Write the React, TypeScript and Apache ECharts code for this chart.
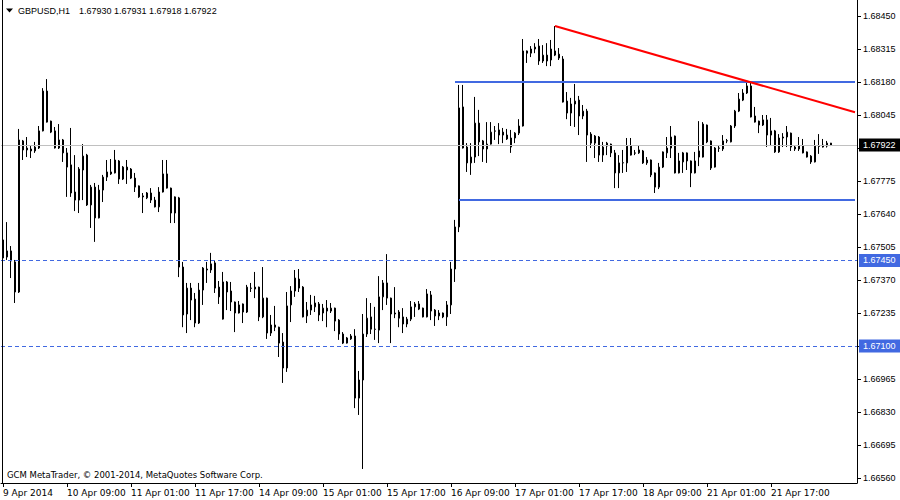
import React, { useEffect, useRef } from "react";
import * as echarts from "echarts";

// Time axis labels (one every 16 H1 bars)
const tickLabels = [
  "9 Apr 2014", "10 Apr 09:00", "11 Apr 01:00", "11 Apr 17:00", "14 Apr 09:00",
  "15 Apr 01:00", "15 Apr 17:00", "16 Apr 09:00", "17 Apr 01:00", "17 Apr 17:00",
  "18 Apr 09:00", "21 Apr 01:00", "21 Apr 17:00",
];
const barsPerLabel = 16;
const emptySlots = 6;

// Price scale ticks; 1.67910 label is hidden under the bid box in the reference
const priceTicks = [
  1.6656, 1.66695, 1.6683, 1.66965, 1.671, 1.67235, 1.6737, 1.67505,
  1.6764, 1.67775, 1.6791, 1.68045, 1.6818, 1.68315, 1.6845,
];
const priceLabels = [
  1.6656, 1.66695, 1.6683, 1.66965, 1.671, 1.67235, 1.6737, 1.67505,
  1.6764, 1.67775, 1.68045, 1.6818, 1.68315, 1.6845,
];
const priceMin = 1.665396;
const priceMax = 1.685155;

// GBPUSD H1 candles: [open, close, low, high]
const candles: number[][] = [
  [1.67534, 1.6746, 1.67403, 1.67603], [1.67464, 1.67489, 1.67452, 1.67607], [1.67489, 1.67448, 1.67378, 1.67509], [1.67444, 1.67321, 1.67276, 1.67452],
  [1.67321, 1.67943, 1.67317, 1.67988], [1.67939, 1.67902, 1.67861, 1.67943], [1.6791, 1.67902, 1.67873, 1.67955], [1.67906, 1.67898, 1.67869, 1.67918],
  [1.67898, 1.67914, 1.6789, 1.67935], [1.6791, 1.6798, 1.67906, 1.68], [1.6798, 1.68143, 1.67978, 1.68155], [1.68143, 1.68016, 1.68014, 1.68192],
  [1.6802, 1.67975, 1.67971, 1.68022], [1.6798, 1.6791, 1.67908, 1.67996], [1.6791, 1.67943, 1.67906, 1.68008], [1.67943, 1.6789, 1.67853, 1.67947],
  [1.6789, 1.67832, 1.6771, 1.6791], [1.67841, 1.67726, 1.6771, 1.67992], [1.6773, 1.67697, 1.67652, 1.67881], [1.67697, 1.67824, 1.67644, 1.67832],
  [1.6782, 1.67877, 1.67697, 1.67926], [1.67881, 1.67677, 1.67673, 1.67886], [1.67677, 1.6775, 1.67583, 1.67759], [1.6775, 1.67624, 1.67526, 1.67767],
  [1.67624, 1.67738, 1.67622, 1.67759], [1.67738, 1.67791, 1.67689, 1.678], [1.67791, 1.67812, 1.67775, 1.67861], [1.67812, 1.67804, 1.678, 1.67865],
  [1.67808, 1.67861, 1.67806, 1.67902], [1.67857, 1.67783, 1.67763, 1.67861], [1.67783, 1.67832, 1.67779, 1.67836], [1.67832, 1.6782, 1.67763, 1.67861],
  [1.67824, 1.67787, 1.67783, 1.67828], [1.67787, 1.6775, 1.6773, 1.67808], [1.67755, 1.6771, 1.67706, 1.67757], [1.67714, 1.6771, 1.67644, 1.67726],
  [1.67706, 1.67726, 1.67701, 1.6773], [1.67726, 1.67697, 1.67685, 1.67746], [1.67697, 1.67669, 1.67667, 1.6771], [1.67669, 1.6773, 1.67648, 1.6775],
  [1.6773, 1.67804, 1.67728, 1.67861], [1.67804, 1.67746, 1.67744, 1.67861], [1.67746, 1.67644, 1.67603, 1.67748], [1.67644, 1.6771, 1.67603, 1.67712],
  [1.67706, 1.67423, 1.67382, 1.6771], [1.67423, 1.67227, 1.67177, 1.67444], [1.67231, 1.67337, 1.67153, 1.67358], [1.67337, 1.67288, 1.67206, 1.67358],
  [1.67292, 1.67194, 1.67177, 1.67317], [1.67194, 1.67329, 1.6719, 1.67358], [1.67329, 1.67419, 1.67268, 1.67423], [1.67411, 1.67415, 1.67358, 1.67444],
  [1.67411, 1.67436, 1.67399, 1.67481], [1.6744, 1.67337, 1.67317, 1.67448], [1.67341, 1.67301, 1.67272, 1.67366], [1.6721, 1.67362, 1.67208, 1.67403],
  [1.67362, 1.67321, 1.67247, 1.67366], [1.67325, 1.6728, 1.67243, 1.67362], [1.6728, 1.67235, 1.67157, 1.67282], [1.67235, 1.67268, 1.67233, 1.67284],
  [1.67272, 1.67239, 1.67194, 1.67274], [1.67239, 1.67341, 1.67235, 1.6735], [1.67337, 1.67336, 1.67321, 1.67358], [1.67341, 1.67333, 1.67296, 1.67403],
  [1.67341, 1.67219, 1.67202, 1.67343], [1.67219, 1.67296, 1.67214, 1.67423], [1.67296, 1.67153, 1.67129, 1.67298], [1.67153, 1.67186, 1.67141, 1.67227],
  [1.67186, 1.67177, 1.67161, 1.67264], [1.67177, 1.67112, 1.67055, 1.67179], [1.67116, 1.6701, 1.66949, 1.67153], [1.6701, 1.67264, 1.66994, 1.67321],
  [1.67268, 1.67325, 1.67198, 1.67345], [1.67325, 1.67378, 1.67301, 1.67411], [1.67374, 1.67337, 1.67321, 1.67415], [1.67341, 1.67219, 1.67217, 1.67345],
  [1.67223, 1.67247, 1.67194, 1.6728], [1.67247, 1.67268, 1.67227, 1.67309], [1.6726, 1.67276, 1.67239, 1.67305], [1.67272, 1.67227, 1.67202, 1.6728],
  [1.67235, 1.67255, 1.67202, 1.67272], [1.67255, 1.67243, 1.67177, 1.67288], [1.67243, 1.67255, 1.67235, 1.67276], [1.67255, 1.67202, 1.67161, 1.67257],
  [1.67206, 1.67149, 1.67125, 1.6721], [1.67149, 1.67112, 1.67108, 1.67157], [1.67112, 1.67133, 1.6711, 1.67137], [1.67129, 1.67141, 1.67125, 1.67149],
  [1.67141, 1.66887, 1.66846, 1.67169], [1.66887, 1.66961, 1.66818, 1.66998], [1.66961, 1.67149, 1.66597, 1.67231], [1.67149, 1.67214, 1.67137, 1.67296],
  [1.67219, 1.67169, 1.67149, 1.67276], [1.67169, 1.67168, 1.67125, 1.6726], [1.67165, 1.67301, 1.67112, 1.67386], [1.67301, 1.67358, 1.67247, 1.6737],
  [1.67358, 1.67296, 1.67268, 1.67476], [1.67296, 1.67231, 1.67112, 1.67298], [1.67231, 1.67235, 1.67214, 1.67341], [1.67239, 1.67214, 1.67177, 1.67247],
  [1.67219, 1.6719, 1.67153, 1.67255], [1.6719, 1.6721, 1.67177, 1.67219], [1.6721, 1.6726, 1.67202, 1.67284], [1.6726, 1.67272, 1.67219, 1.6728],
  [1.67272, 1.67251, 1.67247, 1.67284], [1.67255, 1.67219, 1.67217, 1.67257], [1.67219, 1.67313, 1.67217, 1.67333], [1.67309, 1.67243, 1.67206, 1.67325],
  [1.67247, 1.67223, 1.67182, 1.67251], [1.67223, 1.67235, 1.67206, 1.67247], [1.67235, 1.67219, 1.67214, 1.67237], [1.67219, 1.67268, 1.67182, 1.67284],
  [1.67268, 1.67415, 1.67231, 1.67444], [1.67415, 1.67587, 1.67362, 1.67616], [1.67587, 1.68074, 1.67566, 1.68168], [1.68078, 1.6791, 1.67908, 1.68168],
  [1.67914, 1.67849, 1.67812, 1.6793], [1.67849, 1.67873, 1.678, 1.6793], [1.67873, 1.68012, 1.67849, 1.68119], [1.68012, 1.67935, 1.67877, 1.68066],
  [1.67939, 1.67906, 1.67853, 1.67943], [1.67906, 1.67926, 1.67849, 1.68016], [1.67926, 1.67975, 1.67924, 1.68016], [1.6798, 1.67979, 1.67943, 1.68],
  [1.67984, 1.67963, 1.67926, 1.68012], [1.67975, 1.67963, 1.6793, 1.67992], [1.67963, 1.67947, 1.67943, 1.67988], [1.67914, 1.67951, 1.6789, 1.67984],
  [1.67951, 1.67971, 1.6793, 1.67975], [1.67971, 1.68, 1.67963, 1.68028], [1.68, 1.68307, 1.67998, 1.68356], [1.68307, 1.68298, 1.68258, 1.68309],
  [1.68298, 1.68315, 1.68282, 1.68327], [1.68315, 1.68323, 1.68298, 1.68339], [1.68327, 1.68266, 1.6825, 1.68356], [1.68266, 1.6829, 1.68258, 1.68331],
  [1.6829, 1.68266, 1.68245, 1.68339], [1.6827, 1.68315, 1.68245, 1.68352], [1.68307, 1.6829, 1.68286, 1.68409], [1.68294, 1.68278, 1.6827, 1.68319],
  [1.68274, 1.68098, 1.68096, 1.68286], [1.68102, 1.68053, 1.68028, 1.68139], [1.68053, 1.6809, 1.68, 1.68115], [1.6809, 1.68102, 1.67996, 1.68172],
  [1.68106, 1.68041, 1.67963, 1.68123], [1.68041, 1.68061, 1.68028, 1.68086], [1.68061, 1.67963, 1.67853, 1.6807], [1.67967, 1.6793, 1.6791, 1.67975],
  [1.6793, 1.67959, 1.67869, 1.67963], [1.67955, 1.67881, 1.67853, 1.67959], [1.67881, 1.67914, 1.67853, 1.67935], [1.67918, 1.6793, 1.67881, 1.67935],
  [1.67926, 1.6789, 1.67873, 1.67928], [1.6789, 1.67808, 1.67746, 1.67902], [1.67808, 1.67849, 1.67746, 1.67881], [1.67849, 1.6785, 1.67808, 1.67902],
  [1.67849, 1.67918, 1.67812, 1.67951], [1.67918, 1.67881, 1.67879, 1.67951], [1.6789, 1.67889, 1.67881, 1.67902], [1.6789, 1.67902, 1.67886, 1.67922],
  [1.67898, 1.67849, 1.67845, 1.67902], [1.67849, 1.67861, 1.67841, 1.67873], [1.67861, 1.678, 1.67791, 1.67863], [1.67808, 1.6775, 1.67726, 1.6781],
  [1.6775, 1.67832, 1.67742, 1.67849], [1.67832, 1.67894, 1.67828, 1.67896], [1.6789, 1.6791, 1.67869, 1.67955], [1.6791, 1.67955, 1.67869, 1.68],
  [1.67959, 1.67808, 1.67806, 1.67961], [1.67808, 1.67857, 1.67806, 1.6789], [1.67853, 1.6789, 1.67808, 1.67894], [1.6789, 1.67857, 1.6782, 1.67892],
  [1.67857, 1.67808, 1.6775, 1.67859], [1.67808, 1.67857, 1.67806, 1.67894], [1.67898, 1.67873, 1.67836, 1.6802], [1.67873, 1.68008, 1.67871, 1.68016],
  [1.68004, 1.67935, 1.6793, 1.68006], [1.67939, 1.67828, 1.6782, 1.67941], [1.67832, 1.6791, 1.6783, 1.67914], [1.6791, 1.67909, 1.67894, 1.67922],
  [1.67906, 1.67939, 1.67898, 1.67963], [1.67939, 1.6794, 1.6793, 1.67947], [1.67935, 1.68, 1.67933, 1.68004], [1.68, 1.68061, 1.67992, 1.68066],
  [1.68061, 1.6811, 1.68057, 1.68135], [1.68106, 1.68135, 1.68102, 1.68151], [1.68135, 1.68164, 1.68131, 1.68176], [1.68164, 1.68037, 1.68035, 1.68176],
  [1.68041, 1.68016, 1.68014, 1.68078], [1.6802, 1.68004, 1.67971, 1.68022], [1.68004, 1.68025, 1.68, 1.68045], [1.68025, 1.67963, 1.67914, 1.68045],
  [1.67963, 1.6798, 1.67918, 1.68033], [1.6798, 1.67894, 1.6789, 1.67984], [1.67894, 1.67951, 1.6789, 1.67967], [1.67951, 1.67955, 1.67914, 1.67971],
  [1.67955, 1.67975, 1.67914, 1.68], [1.67971, 1.67914, 1.67898, 1.67973], [1.67914, 1.67906, 1.67898, 1.67922], [1.67906, 1.67918, 1.67898, 1.67955],
  [1.67918, 1.6789, 1.67888, 1.67947], [1.67894, 1.67873, 1.67871, 1.67896], [1.67877, 1.67853, 1.67845, 1.67881], [1.67853, 1.67918, 1.67851, 1.67943],
  [1.67918, 1.67917, 1.67886, 1.67967], [1.67914, 1.67922, 1.67912, 1.67947], [1.67918, 1.6793, 1.67912, 1.67939], [1.6793, 1.67922, 1.67918, 1.67931],
];

// Header values (last bar O H L C)
const symbolName = "GBPUSD,H1";
const lastBarOHLC = ["1.67930", "1.67931", "1.67918", "1.67922"];
const bidPrice = 1.67922;
const dashedLevels = [1.6745, 1.671];
// Horizontal channel lines: [start bar index, price]
const channelLines = [
  [113, 1.6818],
  [114, 1.67697],
];
// Trend line: [bar index, price] pairs
const trendLine = [
  [138, 1.68409],
  [213, 1.68056],
];

const BLUE = "#4169E1";
const PRICE_FONT = "'Liberation Sans', Arial, sans-serif";

export default function App() {
  const ref = useRef<HTMLDivElement>(null);

  useEffect(() => {
    if (!ref.current) return;
    const chart = echarts.init(ref.current, undefined, { renderer: "svg" });
    const total = candles.length + emptySlots;
    const categories: string[] = [];
    for (let i = 0; i < total; i++) {
      const k = i / barsPerLabel;
      categories.push(i % barsPerLabel === 0 && k < tickLabels.length ? tickLabels[k] : "");
    }
    const lastIdx = total - 1;
    const showCat = (_idx: number, value: string) => value !== "";

    const markLabel = (bg: string) => ({
      show: true,
      position: "end",
      distance: 2,
      formatter: (p: any) => Number(p.value).toFixed(5),
      color: "#fff",
      backgroundColor: bg,
      fontSize: 9,
      fontFamily: PRICE_FONT,
      lineHeight: 9,
      padding: [2, 8, 2, 4],
    });

    const series: any[] = [
      {
        type: "candlestick",
        data: candles,
        barWidth: 2,
        itemStyle: {
          color: "#ffffff",
          color0: "#000000",
          borderColor: "#000000",
          borderColor0: "#000000",
          borderWidth: 1,
        },
        markLine: {
          silent: true,
          symbol: "none",
          animation: false,
          precision: 5,
          data: [
            {
              yAxis: bidPrice,
              lineStyle: { color: "#c0c0c0", type: "solid", width: 1 },
              label: markLabel("#000000"),
            },
            ...dashedLevels.map((v) => ({
              yAxis: v,
              lineStyle: { color: BLUE, type: [4, 3], width: 1 },
              label: markLabel(BLUE),
            })),
          ],
        },
        z: 3,
      },
      ...channelLines.map(([start, price]) => ({
        type: "line",
        data: [
          [start, price],
          [lastIdx, price],
        ],
        symbol: "none",
        lineStyle: { color: BLUE, width: 2 },
        silent: true,
        z: 4,
      })),
      {
        type: "line",
        data: trendLine,
        symbol: "none",
        lineStyle: { color: "#ff0000", width: 2 },
        silent: true,
        z: 4,
      },
    ];

    chart.setOption({
      animation: false,
      backgroundColor: "#ffffff",
      grid: { left: 1, right: 43, top: 0, bottom: 17, containLabel: false },
      xAxis: {
        type: "category",
        data: categories,
        boundaryGap: true,
        axisLine: { show: true, lineStyle: { color: "#000", width: 1 } },
        axisTick: {
          show: true,
          alignWithLabel: true,
          interval: showCat,
          length: 4,
          lineStyle: { color: "#000" },
        },
        axisLabel: {
          show: true,
          interval: showCat,
          align: "left",
          margin: 5,
          fontSize: 9,
          fontFamily: "'DejaVu Sans', sans-serif",
          color: "#000",
        },
        splitLine: { show: false },
      },
      yAxis: {
        type: "value",
        position: "right",
        min: priceMin,
        max: priceMax,
        scale: true,
        axisLine: { show: true, lineStyle: { color: "#000", width: 1 } },
        axisTick: {
          show: true,
          length: 4,
          customValues: priceTicks,
          lineStyle: { color: "#000" },
        },
        axisLabel: {
          show: true,
          customValues: priceLabels,
          formatter: (v: number) => v.toFixed(5),
          margin: 6,
          fontSize: 9,
          fontFamily: PRICE_FONT,
          color: "#000",
        },
        splitLine: { show: false },
      },
      series,
      graphic: [
        { type: "rect", shape: { x: 2, y: 0, width: 1, height: 483 }, style: { fill: "#000" }, z: 10 },
        {
          type: "polygon",
          shape: { points: [[6, 8.5], [13, 8.5], [9.5, 12.5]] },
          style: { fill: "#000" },
          z: 10,
        },
        {
          type: "text",
          x: 18,
          y: 11,
          style: { text: symbolName, fill: "#000", fontSize: 9, fontFamily: PRICE_FONT, verticalAlign: "middle" },
          z: 10,
        },
        {
          type: "text",
          x: 79,
          y: 11,
          style: { text: lastBarOHLC.join(" "), fill: "#000", fontSize: 9, fontFamily: PRICE_FONT, verticalAlign: "middle" },
          z: 10,
        },
        {
          type: "text",
          x: 7,
          y: 475,
          style: {
            text: "GCM MetaTrader, © 2001-2014, MetaQuotes Software Corp.",
            fill: "#000",
            fontSize: 8.5,
            fontFamily: "'DejaVu Sans', sans-serif",
            verticalAlign: "middle",
          },
          z: 10,
        },
      ],
    });
    return () => chart.dispose();
  }, []);

  return (
    <div
      ref={ref}
      style={{ position: "fixed", left: 0, top: 0, width: 900, height: 500, background: "#fff" }}
    />
  );
}
